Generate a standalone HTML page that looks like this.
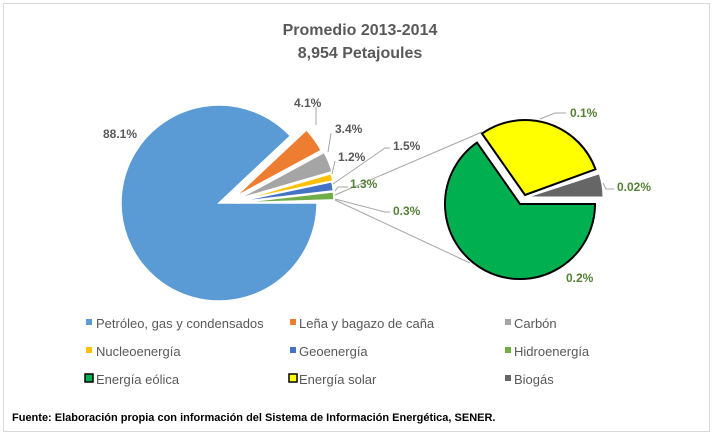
<!DOCTYPE html>
<html><head><meta charset="utf-8"><style>
body{margin:0;background:#fff;}
svg{display:block;font-family:"Liberation Sans",sans-serif;}
.l{font-size:12px;font-weight:bold;fill:#595959;}
.g{font-size:12px;font-weight:bold;fill:#548235;}
.lg{font-size:13px;fill:#595959;}
</style></head><body>
<svg width="715" height="436" viewBox="0 0 715 436">
<rect x="3.5" y="3.5" width="706" height="428" fill="#fff" stroke="#d9d9d9"/>
<text x="360" y="35" text-anchor="middle" font-size="16" font-weight="bold" fill="#595959">Promedio 2013-2014</text>
<text x="360" y="58" text-anchor="middle" font-size="16" font-weight="bold" fill="#595959">8,954 Petajoules</text>

<g stroke="#fff" stroke-width="1.5">
<path d="M219,203 L317,203 A98,98 0 1 1 290.4,135.9 Z" fill="#5b9bd5"/>
<path d="M235,197 L306.4,129.9 A98,98 0 0 1 321.2,150.4 Z" fill="#ed7d31"/>
<path d="M238,199 L324.2,152.4 A98,98 0 0 1 332.1,171.7 Z" fill="#a5a5a5"/>
<path d="M237,201 L331.1,173.7 A98,98 0 0 1 332.9,180.8 Z" fill="#ffc000"/>
<path d="M236,202 L331.9,181.8 A98,98 0 0 1 333.4,190.9 Z" fill="#4472c4"/>
<path d="M236,203 L333.4,191.9 A98,98 0 0 1 333.9,199.9 Z" fill="#70ad47"/>
</g>

<g stroke="#a6a6a6" stroke-width="1" fill="none">
<line x1="335" y1="195" x2="482" y2="132"/>
<line x1="335" y1="200" x2="470" y2="263"/>
<polyline points="316,107 316,125"/>
<polyline points="331,133 328,152"/>
<polyline points="335,161 332,174"/>
<polyline points="390,148 385,148 333,184"/>
<polyline points="348,187 338,187 335,191"/>
<polyline points="390,212 385,212 335,199"/>
<polyline points="566,113 555,113 540,119"/>
<polyline points="614,189 606,189 603,183"/>
</g>

<g stroke="#000" stroke-width="2">
<path d="M520,204 L595,204 A75,75 0 1 1 477,142.6 Z" fill="#00b050"/>
<path d="M525,195 L482,133.6 A75,75 0 0 1 595.5,169.3 Z" fill="#ffff00"/>
</g>
<path d="M528,197 L603,197 A75,75 0 0 0 599.3,173.8 Z" fill="#666666" stroke="#fff" stroke-width="1"/>

<text class="l" x="103" y="138">88.1%</text>
<text class="l" x="294" y="107">4.1%</text>
<text class="l" x="335" y="133">3.4%</text>
<text class="l" x="338" y="161">1.2%</text>
<text class="l" x="393" y="150">1.5%</text>
<text class="g" x="350" y="188">1.3%</text>
<text class="g" x="393" y="215">0.3%</text>
<text class="g" x="570" y="117">0.1%</text>
<text class="g" x="617" y="191">0.02%</text>
<text class="g" x="566" y="282">0.2%</text>

<rect x="86" y="319" width="6" height="6" fill="#5b9bd5"/>
<text class="lg" x="96" y="328">Petróleo, gas y condensados</text>
<rect x="290" y="319" width="6" height="6" fill="#ed7d31"/>
<text class="lg" x="299" y="328">Leña y bagazo de caña</text>
<rect x="505" y="319" width="6" height="6" fill="#a5a5a5"/>
<text class="lg" x="514" y="328">Carbón</text>
<rect x="86" y="347" width="6" height="6" fill="#ffc000"/>
<text class="lg" x="96" y="356">Nucleoenergía</text>
<rect x="290" y="347" width="6" height="6" fill="#4472c4"/>
<text class="lg" x="299" y="356">Geoenergía</text>
<rect x="505" y="347" width="6" height="6" fill="#70ad47"/>
<text class="lg" x="514" y="356">Hidroenergía</text>
<rect x="85" y="374" width="8" height="8" fill="#00b050" stroke="#000" stroke-width="1.5"/>
<text class="lg" x="96" y="384">Energía eólica</text>
<rect x="289" y="374" width="8" height="8" fill="#ffff00" stroke="#000" stroke-width="1.5"/>
<text class="lg" x="299" y="384">Energía solar</text>
<rect x="505" y="375" width="6" height="6" fill="#666666"/>
<text class="lg" x="514" y="384">Biogás</text>

<text x="12" y="421" font-size="11" font-weight="bold" fill="#000">Fuente: Elaboración propia con información del Sistema de Información Energética, SENER.</text>
</svg>
</body></html>
